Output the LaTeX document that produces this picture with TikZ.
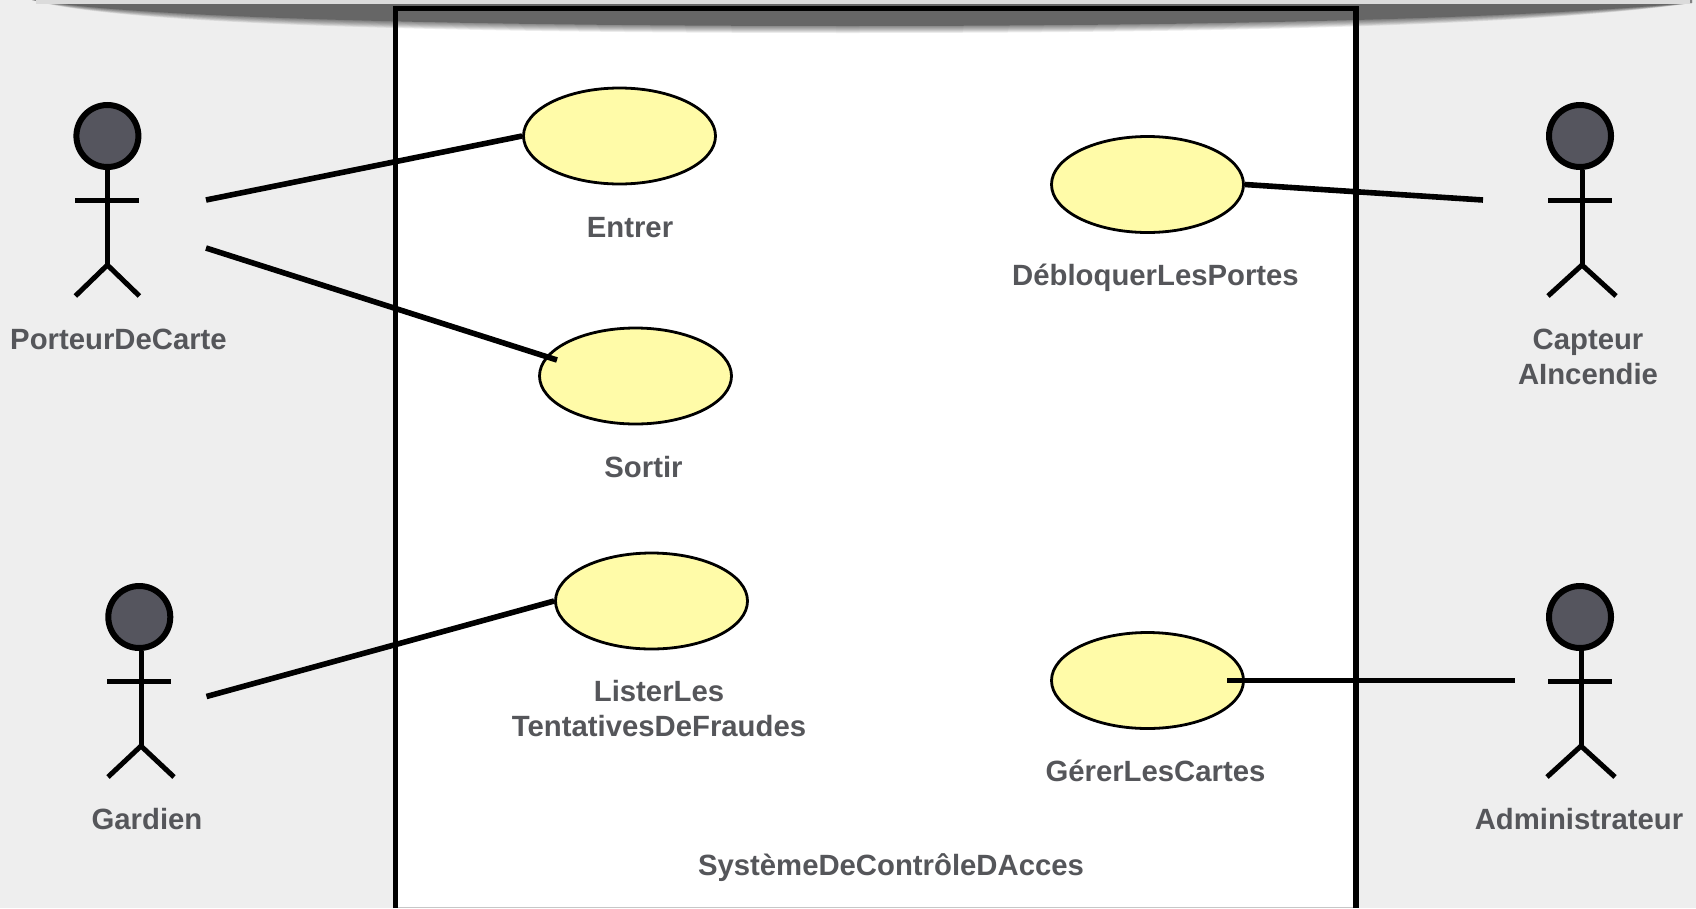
\documentclass[tikz,border=0pt]{standalone}
\usepackage{fontspec}
\setmainfont{Liberation Sans}
\definecolor{bgc}{HTML}{EEEEEE}
\definecolor{usecase}{HTML}{FFFBA8}
\definecolor{headc}{HTML}{55555E}
\definecolor{labelc}{HTML}{55565A}
\tikzset{
  usecasenode/.style={ellipse,draw=black,line width=2.8pt,fill=usecase,minimum width=192pt,minimum height=96pt,inner sep=0pt},
  txt/.style={font=\bfseries\fontsize{29.3}{35}\selectfont,text=labelc,align=center,inner sep=0pt},
  conn/.style={draw=black,line width=5.6pt},
  limb/.style={draw=black,line width=5pt},
  headnode/.style={circle,draw=black,line width=6pt,fill=headc,minimum size=62pt,inner sep=0pt},
}
\usetikzlibrary{shapes.geometric}
% #1 name, #2 head x, #3 head y, #4 body x, #5 arm half width, #6 leg half width
\newcommand{\actorfig}[6]{%
  \node[headnode] (#1) at (#2,#3) {};
  \draw[limb] (#1.south -| #4,0) -- ++(0,95) coordinate (#1hip);
  \draw[limb] (#2-#5,#3+64) -- (#2+#5,#3+64);
  \draw[limb] (#4-#6,#3+160) -- (#1hip) -- (#4+#6,#3+160);
}
\begin{document}
\begin{tikzpicture}[x=1pt,y=-1pt]
\useasboundingbox (0,0) rectangle (1696,908);
\fill[bgc] (0,0) rectangle (1696,908);
% system box interior
\fill[white] (395.4,8.5) rectangle (1355.8,908);
\draw[draw=black!22,line width=1.2pt] (398,907.4) -- (1353,907.4);
% top banner shadow
\foreach \d in {7,6,5,4,3,2,1}{
  \fill[black,opacity=.08] (32,0) .. controls (100,13+\d) and (350,26+\d) .. (848,26+\d) .. controls (1300,26+\d) and (1560,15+\d) .. (1692,3) -- (1692,0) -- cycle;
}
\shade[left color=black!60,middle color=black!47,right color=black!60] (36,0) .. controls (100,13) and (350,26) .. (848,26) .. controls (1300,26) and (1560,15) .. (1688,3) -- (1688,0) -- cycle;
\fill[black!14] (36,0) rectangle (1690,3.5);
% system box
\draw[draw=black,line width=5.4pt] (395.4,908) -- (395.4,8.5) -- (1355.8,8.5) -- (1355.8,908);
% use cases
\node[usecasenode] (entrer) at (619.5,136) {};
\node[usecasenode] (sortir) at (635.5,376) {};
\node[usecasenode] (lister) at (651.5,601) {};
\node[usecasenode] (debloquer) at (1147.5,184.5) {};
\node[usecasenode] (gerer) at (1147.5,680.5) {};
% actors
\actorfig{porteur}{107.4}{136}{107.4}{32}{32}
\actorfig{gardien}{139.3}{617}{141}{32}{33}
\actorfig{capteur}{1580}{136}{1582}{32}{34}
\actorfig{admin}{1580}{617}{1581}{32}{34}
% connector free ends
\coordinate (p1) at (206,200);
\coordinate (p2) at (206,248);
\coordinate (s1) at (557,360);
\coordinate (g1) at (206.5,696.5);
\coordinate (c1) at (1483,200);
\coordinate (a1) at (1515,680.5);
\coordinate (r1) at (1227,680.5);
\draw[conn] (p1) -- (entrer.west);
\draw[conn] (p2) -- (s1);
\draw[conn] (g1) -- (lister.west);
\draw[conn] (debloquer.east) -- (c1);
\draw[conn] (r1) -- (a1);
% labels
\node[txt] (lporteur) at (118.5,339.5) {PorteurDeCarte};
\node[txt] (lentrer) at (630,228) {Entrer};
\node[txt] (lsortir) at (643.5,467) {Sortir};
\node[txt] (ldebloquer) at (1155.5,278) {DébloquerLesPortes};
\node[txt] (lcapteur) at (1588,357) {Capteur\\AIncendie};
\node[txt] (llister) at (659,708.5) {ListerLes\\TentativesDeFraudes};
\node[txt] (lgardien) at (147,819) {Gardien};
\node[txt] (lgerer) at (1155.5,771) {GérerLesCartes};
\node[txt] (ladmin) at (1579,819) {Administrateur};
\node[txt] (lsys) at (891,867.5) {SystèmeDeContrôleDAcces};
\end{tikzpicture}
\end{document}
